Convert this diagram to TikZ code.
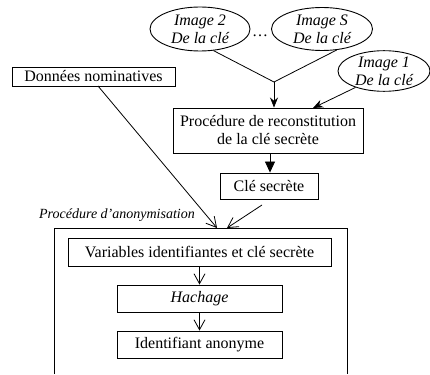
\documentclass[tikz,border=0pt]{standalone}
\usepackage{fontspec}
\setmainfont{Liberation Serif}
\usetikzlibrary{arrows.meta,shapes.geometric}
\begin{document}
\begin{tikzpicture}[x=1pt,y=-1pt,
  every node/.style={font=\fontsize{16}{18}\selectfont},
  box/.style={draw,line width=0.9pt,inner sep=0pt,align=center},
  oval/.style={draw,ellipse,line width=0.9pt,inner sep=0pt,align=center,font=\fontsize{16}{18}\selectfont\itshape},
  ln/.style={line width=0.8pt},
  openarr/.style={ln,-{Straight Barb[length=10pt,width=11pt,line width=0.8pt]}},
  fillarr/.style={ln,-{Stealth[length=10pt,width=8pt]}},
  triarr/.style={ln,-{Triangle[length=11pt,width=10pt]}}
]
\useasboundingbox (0,0) rectangle (430,374);
% ellipses
\node[oval,minimum width=100,minimum height=44] (img2) at (200,29) {Image 2\\De la clé};
\node[oval,minimum width=101,minimum height=43] (imgS) at (322,29) {Image S\\De la clé};
\node (dots) at (260,36) {\dots};
\node[oval,minimum width=92,minimum height=38] (img1) at (384,71) {Image 1\\De la clé};
% boxes
\node[box,minimum width=163,minimum height=19] (donn) at (93.5,76.5) {Données nominatives};
\node[box,minimum width=190,minimum height=45] (proc) at (268,130.5) {Procédure de reconstitution\\de la clé secrète};
\node[box,minimum width=98,minimum height=26] (cle) at (269,186) {Clé secrète};
\node[font=\fontsize{14}{16}\selectfont\itshape] (anonlab) at (117,215) {Procédure d’anonymisation};
\coordinate (otl) at (54,228);
\coordinate (otr) at (347,228);
\coordinate (obl) at (54,374);
\coordinate (obr) at (347,374);
\draw[line width=0.9pt] (obl) -- (otl) -- (otr) -- (obr);
\coordinate (inA) at (217,228);
\coordinate (inB) at (227,228);
\node[box,minimum width=263,minimum height=28] (vars) at (199.5,252) {Variables identifiantes et clé secrète};
\node[box,minimum width=165,minimum height=27] (hach) at (199.5,298.5) {\itshape Hachage};
\node[box,minimum width=165,minimum height=27] (ident) at (199.5,344.5) {Identifiant anonyme};
% connectors
\coordinate (junc) at (274,82);
\draw[ln] (img2.-58) -- (junc);
\draw[ln] (imgS.-55) -- (junc);
\draw[fillarr] (junc) -- (junc |- proc.north);
\draw[fillarr] (img1.-150) -- (313,108);
\draw[triarr] (proc.south -| 270,0) -- (cle.north -| 270,0);
\draw[openarr] (98,86) -- (inA);
\draw[openarr] (262,205) -- (inB);
\draw[openarr] (vars) -- (hach);
\draw[openarr] (hach) -- (ident);
\end{tikzpicture}
\end{document}
